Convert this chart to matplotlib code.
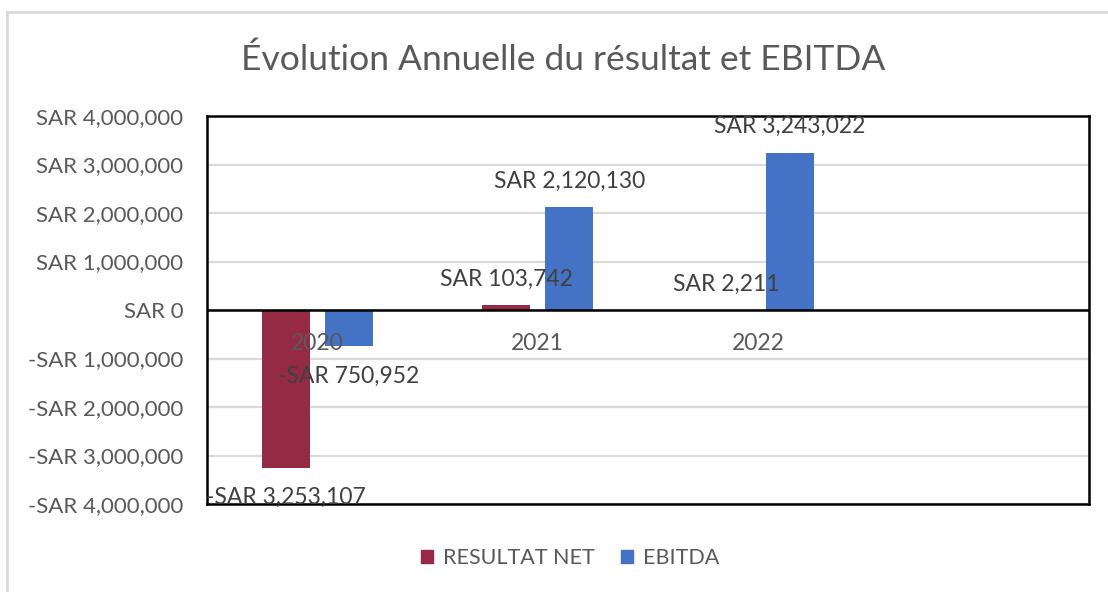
import matplotlib
matplotlib.use("Agg")
import matplotlib.pyplot as plt
from matplotlib.patches import Rectangle
from matplotlib.lines import Line2D
import numpy as np

categories = ["2020", "2021", "2022"]
resultat_net = [-3253107, 103742, 2211]
ebitda = [-750952, 2120130, 3243022]
series_names = ["RESULTAT NET", "EBITDA"]
title = "Évolution Annuelle du résultat et EBITDA"
y_ticks = [-4000000, -3000000, -2000000, -1000000, 0, 1000000, 2000000, 3000000, 4000000]

RED = "#952A45"
BLUE = "#4472C4"
GREY_TXT = "#595959"
LBL_TXT = "#404040"
FONT = "Lato"

plt.rcParams['font.family'] = [FONT, 'DejaVu Sans']

fig = plt.figure(figsize=(11.08, 5.92), dpi=100)
fig.patch.set_facecolor("white")

# outer chart border (light grey)
fig.add_artist(Line2D([7/1108, 7/1108], [0, 1 - 12/592], transform=fig.transFigure,
                      color="#d9d9d9", lw=2))
fig.add_artist(Line2D([7/1108, 1], [1 - 12/592, 1 - 12/592], transform=fig.transFigure,
                      color="#d9d9d9", lw=2))

ax = fig.add_axes([207/1108, 1 - 504/592, (1089 - 207)/1108, (504 - 116)/592])

n_slots = 4
x = np.arange(len(categories))
bw = 0.218
off = 0.143

ax.set_xlim(-0.5, n_slots - 0.5)
ax.set_ylim(-4000000, 4000000)

ax.yaxis.grid(True, color="#d9d9d9", lw=1.6, zorder=0)
ax.set_axisbelow(True)

b1 = ax.bar(x - off, resultat_net, bw, color=RED, zorder=2, label=series_names[0])
b2 = ax.bar(x + off, ebitda, bw, color=BLUE, zorder=2, label=series_names[1])

ax.axhline(0, color="black", lw=1.8, zorder=3)

for s in ax.spines.values():
    s.set_color("black")
    s.set_linewidth(1.8)

def sar(v):
    if v < 0:
        return "-SAR {:,}".format(int(-v))
    return "SAR {:,}".format(int(v))

ax.set_yticks(y_ticks)
ax.set_yticklabels([sar(v) for v in y_ticks], color=GREY_TXT, fontsize=16)
ax.tick_params(axis="y", length=0, pad=17)
ax.set_xticks([])

# category labels just below the zero line
for xi, c in zip(x, categories):
    ax.annotate(c, (xi, 0), xytext=(0, -33), textcoords="offset pixels",
                ha="center", va="center", color=GREY_TXT, fontsize=16.5, zorder=4)

# data labels
for bars, vals in ((b1, resultat_net), (b2, ebitda)):
    for rect, v in zip(bars, vals):
        cx = rect.get_x() + rect.get_width() / 2
        dy = 26 if v >= 0 else -30
        ax.annotate(sar(v), (cx, v), xytext=(0, dy), textcoords="offset pixels",
                    ha="center", va="center", color=LBL_TXT, fontsize=16.5, zorder=5,
                    annotation_clip=False)

fig.text(563/1108, 1 - 60/592, title, ha="center", va="center", color=GREY_TXT, fontsize=25.5)

handles = [Rectangle((0, 0), 1, 1, color=RED), Rectangle((0, 0), 1, 1, color=BLUE)]
fig.legend(handles, series_names, loc="center", bbox_to_anchor=(570/1108, 1 - 558/592),
           ncol=2, frameon=False, fontsize=15.5, labelcolor=GREY_TXT,
           handlelength=0.55, handleheight=0.55, handletextpad=0.45, columnspacing=1.25)

fig.savefig("out.png", dpi=100, facecolor="white")
